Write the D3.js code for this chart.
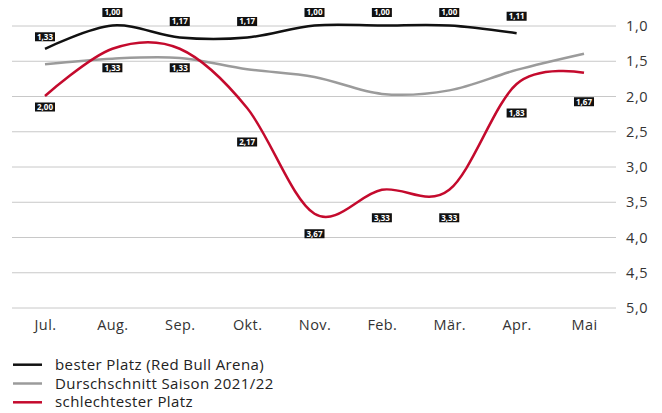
<!DOCTYPE html>
<html>
<head>
<meta charset="utf-8">
<script src="https://cdn.jsdelivr.net/npm/d3@7"></script>
<style>
  body { margin: 0; background: #fff; }
  text { font-family: "Open Sans", "Noto Sans", sans-serif; }
</style>
</head>
<body>
<div id="chart"></div>
<script>
var months = ["Jul.", "Aug.", "Sep.", "Okt.", "Nov.", "Feb.", "Mär.", "Apr.", "Mai"];
var best = [1.33, 1.00, 1.17, 1.17, 1.00, 1.00, 1.00, 1.11, null];
var average = [1.55, 1.47, 1.46, 1.62, 1.73, 1.97, 1.92, 1.63, 1.40];
var worst = [2.00, 1.33, 1.33, 2.17, 3.67, 3.33, 3.33, 1.83, 1.67];
var yTicks = [1.0, 1.5, 2.0, 2.5, 3.0, 3.5, 4.0, 4.5, 5.0];
var legendLabels = ["bester Platz (Red Bull Arena)", "Durschschnitt Saison 2021/22", "schlechtester Platz"];

// label offsets (px) relative to the point
var bestLabelDy = [-12, -13, -16, -16, -13, -13, -13, -17];
var worstLabelDy = [11, 19, 19, 34, 20, 28, 28, 29, 29];

var svgWidth = 662;
var svgHeight = 413;
var colors = ["#111111", "#9b9b9b", "#c40a2d"];

var svg = d3.select("#chart")
  .append("svg")
  .attr("width", svgWidth)
  .attr("height", svgHeight);

var x = d3.scalePoint()
  .domain(months)
  .range([45, 584]);

var y = d3.scaleLinear()
  .domain([1, 5])
  .range([25.5, 307.5]);

var fmt = function(v, digits) {
  return d3.format("." + digits + "f")(v).replace(".", ",");
};

// gridlines + right tick labels
var yAxis = d3.axisRight(y)
  .tickValues(yTicks)
  .tickSize(604)
  .tickFormat(d => fmt(d, 1));

svg.append("g")
  .attr("transform", "translate(12,0)")
  .call(yAxis)
  .call(g => g.select(".domain").remove())
  .call(g => g.selectAll(".tick line").attr("stroke", "#c8c8c8").attr("stroke-width", 1))
  .call(g => g.selectAll(".tick text")
    .attr("x", 614)
    .attr("dy", "0.35em")
    .attr("fill", "#333")
    .style("font-size", "14.5px")
    .style("letter-spacing", "0.6px"));

// month labels
var xAxis = d3.axisBottom(x).tickSize(0);
svg.append("g")
  .attr("transform", "translate(0,317)")
  .call(xAxis)
  .call(g => g.select(".domain").remove())
  .call(g => g.selectAll(".tick text")
    .attr("fill", "#333")
    .style("font-size", "14.5px")
    .style("letter-spacing", "0.4px"));

var line = d3.line()
  .defined(d => d != null)
  .x((d, i) => x(months[i]))
  .y(d => y(d))
  .curve(d3.curveCardinal.tension(0));

[average, worst, best].forEach(function(series) {
  var c = series === best ? colors[0] : series === average ? colors[1] : colors[2];
  svg.append("path")
    .datum(series)
    .attr("fill", "none")
    .attr("stroke", c)
    .attr("stroke-width", 2.5)
    .attr("d", line);
});

function drawLabels(series, dys) {
  var g = svg.append("g");
  series.forEach(function(v, i) {
    if (v == null) return;
    var cx = x(months[i]);
    var cy = y(v) + dys[i];
    var lab = g.append("g").attr("transform", `translate(${cx},${cy})`);
    var t = lab.append("text")
      .attr("text-anchor", "middle")
      .attr("dy", "0.35em")
      .attr("fill", "#fff")
      .style("font-size", "8px")
      .style("font-weight", "bold")
      .text(fmt(v, 2));
    var w = t.node().getComputedTextLength() + 4;
    lab.insert("rect", "text")
      .attr("x", -w / 2)
      .attr("y", -4.5)
      .attr("width", w)
      .attr("height", 9)
      .attr("fill", "#111");
  });
}

drawLabels(best, bestLabelDy);
drawLabels(worst, worstLabelDy);

// legend
var legend = svg.append("g");
legendLabels.forEach(function(name, i) {
  var ly = 364.7 + i * 18.8;
  legend.append("line")
    .attr("x1", 13).attr("x2", 42)
    .attr("y1", ly).attr("y2", ly)
    .attr("stroke", colors[i])
    .attr("stroke-width", 2.5);
  legend.append("text")
    .attr("x", 55)
    .attr("y", ly + 5)
    .attr("fill", "#222")
    .style("font-size", "15px")
    .style("letter-spacing", "0.4px")
    .text(name);
});
</script>
</body>
</html>
